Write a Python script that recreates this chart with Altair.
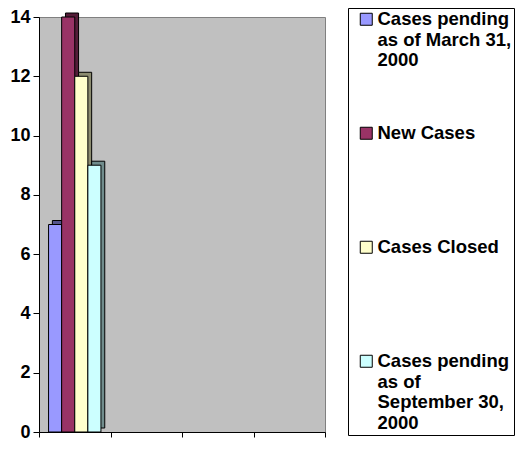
import altair as alt
import pandas as pd

categories = ["Period 1", "Period 2", "Period 3", "Period 4"]
series = [
    "Cases pending\nas of March 31,\n2000",
    "New Cases",
    "Cases Closed",
    "Cases pending\nas of\nSeptember 30,\n2000",
]
values = [7, 14, 12, 9]
y_ticks = [0, 2, 4, 6, 8, 10, 12, 14]

front_colors = ["#9999FF", "#993366", "#FFFFCC", "#CCFFFF"]

df = pd.DataFrame({
    "category": [categories[0]] * len(series),
    "series": series,
    "value": values,
})

FONT = "Liberation Sans"

x_enc = alt.X(
    "category:N",
    scale=alt.Scale(domain=categories, paddingInner=0, paddingOuter=0),
    axis=alt.Axis(labels=False, title=None, tickBand="extent", tickSize=5,
                  domainColor="black", tickColor="black"),
)


def xoff(align):
    return alt.XOffset(
        "series:N",
        scale=alt.Scale(domain=series, paddingOuter=0.73, paddingInner=0, align=align),
    )


y_enc = alt.Y(
    "value:Q",
    scale=alt.Scale(domain=[0, 14], nice=False),
    axis=alt.Axis(values=y_ticks, title=None, grid=False, tickSize=6,
                  labelPadding=3, domainColor="black", tickColor="black"),
)

legend = alt.Legend(
    title=None,
    orient="none",
    legendX=309,
    legendY=-9,
    strokeColor="black",
    fillColor="white",
    padding=2,
    gridAlign="all",
    symbolType="square",
    symbolSize=144,
    symbolStrokeColor="black",
    symbolStrokeWidth=1,
    symbolOffset=7,
    labelOffset=2,
    labelFont=FONT,
    labelFontSize=18.5,
    labelFontWeight="bold",
    labelLimit=400,
    labelColor="black",
    rowPadding=33,
    labelExpr="split(datum.label, '\\n')",
)
color_enc = alt.Color("series:N", scale=alt.Scale(domain=series, range=front_colors), legend=legend)

base = alt.Chart(df)

shadow = base.mark_bar(stroke="black", strokeWidth=1, yOffset=-4, y2Offset=-4).encode(
    x=x_enc, xOffset=xoff(0.70), y=y_enc, color=color_enc,
)
shade = base.mark_bar(fill="black", opacity=0.45, yOffset=-4, y2Offset=-4).encode(
    x=x_enc, xOffset=xoff(0.70), y=y_enc,
)
front = base.mark_bar(stroke="black", strokeWidth=1).encode(
    x=x_enc, xOffset=xoff(0.5), y=y_enc, color=color_enc,
)

chart = alt.layer(shadow, shade, front).resolve_scale(
    xOffset="independent"
).properties(
    width=286,
    height=415,
    autosize=alt.AutoSizeParams(type="none"),
    padding={"left": 31, "top": 9, "right": 194, "bottom": 9},
).configure_view(
    fill="#C0C0C0", stroke="#808080", strokeWidth=1
).configure_axis(
    labelFont=FONT, labelFontSize=18, labelFontWeight="bold", labelColor="black"
)

chart.save("out.html", embed_options={"renderer": "svg", "actions": False})
